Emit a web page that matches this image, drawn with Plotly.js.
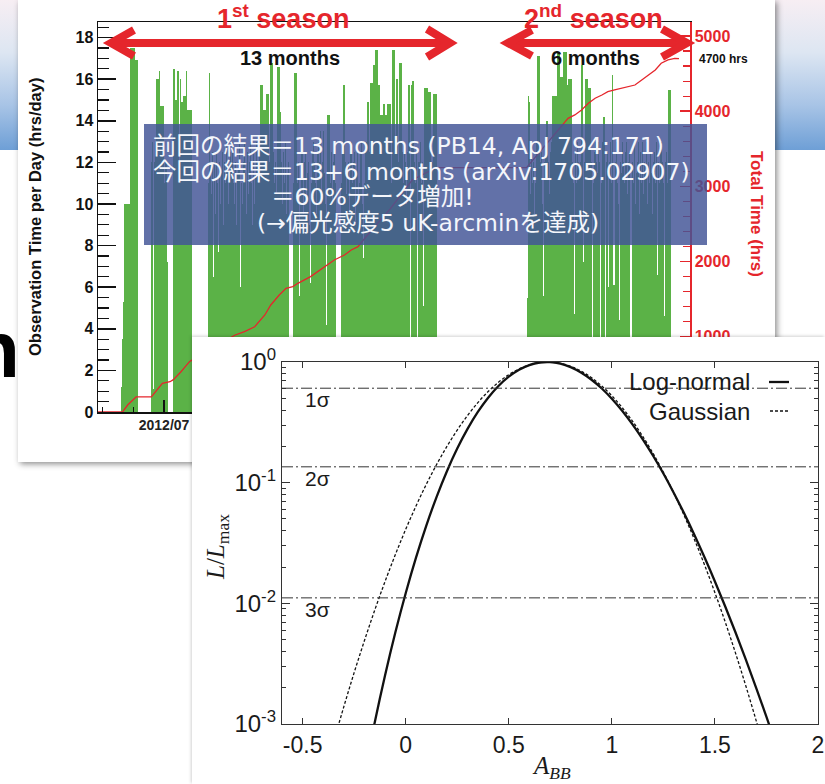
<!DOCTYPE html>
<html><head><meta charset="utf-8">
<script src="https://cdn.plot.ly/plotly-3.0.1.min.js"></script>
<style>
html,body{margin:0;padding:0;background:#fff;}
#page{position:relative;width:825px;height:784px;overflow:hidden;background:#fff;}
#band{position:absolute;left:0;top:0;width:825px;height:150px;background:linear-gradient(to bottom,#f7eef3 0%,#dde6f2 35%,#a8c4e6 70%,#6e9fd6 100%);}
#bigN{position:absolute;left:-29px;top:310px;font:bold 80px/80px "Liberation Sans",Arial,sans-serif;color:#000;}
#topc{position:absolute;left:18px;top:0;width:757px;height:462px;background:#fff;box-shadow:2px 2px 6px rgba(0,0,0,0.45);}
#botc{position:absolute;left:192px;top:337px;width:633px;height:447px;background:#fff;box-shadow:-1px -1px 3px rgba(0,0,0,0.18);}
</style></head>
<body>
<div id="page">
  <div id="band"></div>
  <div id="bigN">n</div>
  <div id="topc"></div>
  <div id="botc"></div>
</div>
<script>
// ---------------- Top chart data ----------------
const season1Start = '2012-05-12';
const season1Hours = [
 1.2,3.5,5.3,10,10,10,10,10,10,10,
 17.5,17.5,17.5,17.5,17.5,17.5,16.9,16.9,16.9,16.9,
 0,0,0,0,0,0,0,0,0,0,
 0,0,0,0,0,12,13,11,1.1,12,
 13,16,16,16,16.4,16.4,14.7,14.7,14.7,14.7,
 12,11,12,12,7.2,0,0,0,0,0,
 0,16.5,16.5,13,15,15,16.4,16.4,12,16,
 16,14.9,14.9,15.2,15.2,15.2,16.4,16.4,14.5,14.5,
 14.5,14.5,14.5,12,0,0,0,0,0,0,
 0,0,0,0,0,0,0,0,0,0,
 0,0,11,16.3,16.3,12,10.5,12.5,6.5,11,
 12,9.5,12.5,11,7.7,12,13,10,11.5,12.5,
 9,12,7.6,11,13,12,10,11.5,12.5,9.5,
 12,13,11,10,12,12.5,9,11.5,12,13,
 6,11,12.5,10,12,13,11.5,9.5,12,12.5,
 10.5,12,13,11,9,12,12.5,10,11.5,13,
 12,9.5,11,12.5,15.7,15.7,15.7,14.5,14.5,14.5,
 14.5,15.3,15.3,15.3,12,16.8,16.8,16.8,16.8,12.5,
 11,13,12,10.5,16.6,16.6,16.6,14.4,14.4,12,
 10,12.5,11,13,12,9.5,11.5,12,0,0,
 0,0,0,11,16.3,16.3,16.3,12.5,11,12,
 5.6,10.5,12.5,13,11,9.5,12,12.5,10,11.5,
 13,12,9,6.2,11,12.5,13,10.5,12,11,
 9.5,12.5,13,11,12,13.5,10,12,13.5,11.5,
 12,10,4.2,14.3,14.3,14.3,6.8,11,12.5,10,
 12,13,11,9.5,0,0,0,0,0,0,
 11,12.5,15.7,15.7,12,10.5,13,11.5,12,9.5,
 12.5,13,11,10,12,12.5,9,11.5,13,12,
 10.5,11,12.5,13,10,7.4,12,11,12.5,13,
 14.9,14.9,14.9,12.5,15.8,15.8,15.8,16.7,16.7,16.7,
 17.4,17.4,17.4,15.7,15.7,15.7,14.3,14.3,14.3,14.8,
 14.8,14.3,14.3,14.3,14.8,14.8,14.8,14.8,12,11,
 17.4,17.4,17.4,12.5,16,16,16,12,16.8,16.8,
 16.8,16.8,12.5,11,13,12,10,12.5,15.7,15.7,
 15.7,0,15.7,15.9,15.9,15.9,12,11,12.5,2,
 12,17.2,12,13,11,12,5.1,12.5,15.6,15.6,
 15.6,15.6,15.4,15.4,15.4,15.4,12,12,15.3,15.3,
 15.3,15.3,15.3
];
const season2Start = '2013-09-03';
const season2Hours = [
 5.5,15.2,14.9,12,10.5,13,11,12,9.5,12.5,
 11,13,17.1,17.1,17.1,12,11,12.5,10,5.6,
 12,13,11,14,14,12,10.5,12.5,13,11,
 15.2,15.2,15.2,15.2,15.2,17.3,17.3,17.3,17.3,16.1,
 16.1,16.1,17.3,17.3,17.3,17.3,17.3,15.7,16,16,
 16,16,16,12,11,4.7,4.7,12.5,11,13,
 12,10,11.5,12,16.7,16.7,7.2,12,13,16,
 16,16,15.6,15.6,15.6,15.6,12,0,11,12.5,
 13,10,12,11.5,13,12,1.5,11,12.5,13,
 14.2,14.2,0,12,11,12.5,6,12,13,11,
 16.2,16.2,6.1,6.1,12,13,11,12.5,10,4.4,
 12,11.5,13,12,6.9,11,12.5,13,10.5,12,
 11,12.5,0,0,12,11,13,12.5,10,11.5,
 12,13,9.5,12,12.5,11,13,10.5,12,11.5,
 12.5,13,10,12,11,12.5,13,11.5,9.5,12,
 12.5,11,13,12,6.6,12,11,12.5,13,10.5,
 12,11,4.6,12,12.5,11,13,15.5,15.5,15.5
];
// cumulative total time (hrs)
const cumDates = ['2012-04-14','2012-05-13','2012-05-19','2012-05-29','2012-06-16','2012-06-21','2012-06-29','2012-07-08','2012-07-12','2012-07-21','2012-07-31','2012-08-12','2012-09-23','2012-10-04','2012-10-16','2012-10-28','2012-11-04','2012-11-14','2012-11-22','2012-11-30','2012-12-06','2012-12-21','2013-01-06','2013-01-18','2013-01-30','2013-02-07','2013-02-15','2013-02-23','2013-03-25','2013-04-20','2013-05-13','2013-05-19','2013-09-02','2013-09-23','2013-10-15','2013-10-21','2013-10-29','2013-11-06','2013-11-14','2013-11-22','2013-11-30','2013-12-07','2013-12-15','2013-12-31','2014-01-08','2014-01-16','2014-01-24','2014-02-01','2014-02-08','2014-02-16','2014-02-24','2014-03-01'];
const cumHours = [0,0,93,200,200,270,380,403,430,536,669,758,1024,1068,1134,1290,1423,1556,1645,1667,1711,1800,1932,2021,2088,2154,2198,2310,2700,3085,3218,3250,3250,3530,3815,3905,3950,4016,4105,4172,4215,4259,4282,4326,4348,4415,4481,4548,4637,4681,4703,4700];
const totalTicks = [1000,2000,3000,4000,5000];

const leftTitle = 'Observation Time per Day (hrs/day)';
const rightTitle = 'Total Time (hrs)';
const noteLines = ['前回の結果＝13 months (PB14, ApJ 794:171)','今回の結果＝13+6 months (arXiv:1705.02907)','＝60%データ増加!','(→偏光感度5 uK-arcminを達成)'];

// ---------------- Bottom chart data ----------------
const abbGauss = [-0.35,-0.30,-0.25,-0.20,-0.15,-0.10,-0.05,0.00,0.05,0.10,0.15,0.20,0.25,0.30,0.35,0.40,0.45,0.50,0.55,0.60,0.65,0.70,0.75,0.80,0.85,0.90,0.95,1.00,1.05,1.10,1.15,1.20,1.25,1.30,1.35,1.40,1.45,1.50,1.55,1.60,1.65,1.70,1.75];
const likeGauss = [0.000706,0.001394,0.002664,0.00492,0.008797,0.01519,0.02537,0.04101,0.06405,0.0968,0.1414,0.1997,0.2728,0.3604,0.4605,0.5688,0.6795,0.7849,0.8768,0.9471,0.9893,0.9993,0.9761,0.922,0.8422,0.7439,0.6354,0.5248,0.4192,0.3238,0.2418,0.1747,0.122,0.08242,0.05382,0.03398,0.02075,0.01226,0.007001,0.003866,0.002064,0.001067,0.000532];
const abbLogN = [-0.20,-0.15,-0.10,-0.05,0.00,0.05,0.10,0.15,0.20,0.25,0.30,0.35,0.40,0.45,0.50,0.55,0.60,0.65,0.70,0.75,0.80,0.85,0.90,0.95,1.00,1.05,1.10,1.15,1.20,1.25,1.30,1.35,1.40,1.45,1.50,1.55,1.60,1.65,1.70,1.75,1.80];
const likeLogN = [0.000391,0.001036,0.002536,0.005752,0.01213,0.0239,0.04409,0.07633,0.1245,0.1916,0.279,0.3854,0.5061,0.633,0.7556,0.8627,0.9434,0.99,0.9985,0.9695,0.9074,0.8199,0.7163,0.6056,0.4962,0.3944,0.3046,0.2287,0.1671,0.119,0.08263,0.056,0.03707,0.02398,0.01519,0.009424,0.005727,0.003414,0.001996,0.001146,0.000646];
const sigmaLevels = [0.6065, 0.1353, 0.0111];
const sigmaLabels = ['1σ','2σ','3σ'];
const xTickVals = [-0.5,0,0.5,1,1.5,2];
const xTickText = ['-0.5','0','0.5','1','1.5','2'];
const yTickVals = [0.001,0.01,0.1,1];
const yTickText = ['10<sup>-3</sup>','10<sup>-2</sup>','10<sup>-1</sup>','10<sup>0</sup>'];
const legendNames = ['Log-normal','Gaussian'];

// ---------------- helpers ----------------
function dayList(start, n){
  const t0 = Date.parse(start + 'T00:00:00Z');
  const out = [];
  for(let k=0;k<n;k++) out.push(new Date(t0 + k*86400000).toISOString().slice(0,10));
  return out;
}
const RED = '#e5262c';
const GREEN = '#5bb247';
const SANS = '"Liberation Sans", Arial, Helvetica, sans-serif';
const SERIF = '"Liberation Serif", "Times New Roman", serif';
const CJK = '"DejaVu Sans", "Noto Sans CJK JP", sans-serif';

// top chart pixel->paper (page coords)
const TX = p => (p - 98) / 592;
const TY = p => (412 - p) / 390;

const topTraces = [
  {type:'bar', x: dayList(season1Start, season1Hours.length), y: season1Hours, width: 86400000,
   marker:{color:GREEN, line:{width:0}}, hoverinfo:'skip'},
  {type:'bar', x: dayList(season2Start, season2Hours.length), y: season2Hours, width: 86400000,
   marker:{color:GREEN, line:{width:0}}, hoverinfo:'skip'},
  {type:'scatter', mode:'lines', x: cumDates, y: cumHours, yaxis:'y2',
   line:{color:RED, width:1.3}, hoverinfo:'skip'}
];

function chevron(tipX, backX, y, h){
  return 'M ' + TX(backX) + ',' + TY(y - h) + ' L ' + TX(tipX) + ',' + TY(y) + ' L ' + TX(backX) + ',' + TY(y + h);
}
const arrowShapes = [
  {type:'path', path:'M ' + TX(115) + ',' + TY(43) + ' L ' + TX(446) + ',' + TY(43)},
  {type:'path', path: chevron(111, 134, 43, 13)},
  {type:'path', path: chevron(450, 427, 43, 14)},
  {type:'path', path:'M ' + TX(511) + ',' + TY(43) + ' L ' + TX(684) + ',' + TY(43)},
  {type:'path', path: chevron(508, 532, 43, 13)},
  {type:'path', path: chevron(687, 662, 43, 14)}
].map(s => Object.assign(s, {xref:'paper', yref:'paper', layer:'above', line:{color:RED, width:8}}));

const boxShape = {type:'rect', xref:'paper', yref:'paper', x0:TX(144), x1:TX(707), y0:TY(245), y1:TY(124),
  fillcolor:'rgba(66,84,150,0.83)', line:{width:0}, layer:'above'};

const noteAnn = [
  {x:TX(151), y:TY(146), text:noteLines[0]},
  {x:TX(151), y:TY(172), text:noteLines[1]},
  {x:TX(269), y:TY(197), text:noteLines[2]},
  {x:TX(255), y:TY(223), text:noteLines[3]}
].map(a => Object.assign(a, {xref:'paper', yref:'paper', xanchor:'left', yanchor:'middle', showarrow:false,
  font:{family:CJK, size:23.5, color:'#f4f6fb'}}));

const topAnn = [
  {x:TX(283), y:TY(17), text:'1<sup>st</sup> season', font:{family:SANS, size:27, color:RED, weight:700}},
  {x:TX(593), y:TY(17), text:'2<sup>nd</sup> season', font:{family:SANS, size:27, color:RED, weight:700}},
  {x:TX(290), y:TY(58), text:'13 months', font:{family:SANS, size:20, color:'#111', weight:700}},
  {x:TX(595), y:TY(58), text:'6 months', font:{family:SANS, size:20, color:'#111', weight:700}},
  {x:TX(697), y:TY(59), text:'4700 hrs', xanchor:'left', font:{family:SANS, size:12, color:'#111', weight:700}},
  {x:TX(35), y:TY(217), text:leftTitle, textangle:-90, font:{family:SANS, size:16.5, color:'#111', weight:700}},
  {x:TX(757), y:TY(214), text:rightTitle, textangle:90, font:{family:SANS, size:17, color:RED, weight:700}}
].map(a => Object.assign({xref:'paper', yref:'paper', xanchor:'center', yanchor:'middle', showarrow:false}, a));

const topLayout = {
  width:757, height:462, margin:{l:80, r:85, t:22, b:50},
  paper_bgcolor:'rgba(0,0,0,0)', plot_bgcolor:'rgba(0,0,0,0)',
  showlegend:false, bargap:0, barmode:'overlay',
  font:{family:SANS, color:'#111'},
  xaxis:{type:'date', range:['2012-04-14','2014-03-14'], showline:true, linecolor:'#111', linewidth:1.5, mirror:true,
    ticks:'inside', ticklen:12, tickwidth:1.5, tickcolor:'#111', tick0:'2012-07-01', dtick:'M6', tickformat:'%Y/%m',
    tickfont:{family:SANS, size:14, weight:700, color:'#222'}, showgrid:false, zeroline:false,
    minor:{ticks:'inside', ticklen:5, tickwidth:1, tickcolor:'#111', tick0:'2012-07-01', dtick:36.5*86400000}},
  yaxis:{range:[0,18.75], showline:true, linecolor:'#111', linewidth:1.5, ticks:'inside', ticklen:18, tickwidth:1.5,
    tickcolor:'#111', tick0:0, dtick:2, tickfont:{family:SANS, size:16, weight:700, color:'#111'}, showgrid:false, zeroline:false,
    minor:{ticks:'inside', ticklen:11, tickwidth:1.2, tickcolor:'#111', dtick:0.5}},
  yaxis2:{overlaying:'y', side:'right', range:[0,5186], showline:true, linecolor:RED, linewidth:1.5, ticks:'inside',
    ticklen:10, tickwidth:1.5, tickcolor:RED, tickmode:'array', tickvals:totalTicks, tickfont:{family:SANS, size:16, weight:700, color:RED},
    showgrid:false, zeroline:false, minor:{ticks:'inside', ticklen:7, tickwidth:1.2, tickcolor:RED, tickmode:'linear', tick0:0, dtick:200}},
  shapes: arrowShapes.concat([boxShape]),
  annotations: topAnn.concat(noteAnn)
};

Plotly.newPlot('topc', topTraces, topLayout, {staticPlot:true, displayModeBar:false});

// ---------------- bottom chart ----------------
const BX = p => (p - 282) / 536;
const BY = p => (724 - p) / 362;

const minorY = [];
for(let d=-3; d<0; d++) for(let m=2; m<=9; m++) minorY.push(m*Math.pow(10,d));

const botTraces = [
  {type:'scatter', mode:'lines', x:abbGauss, y:likeGauss, line:{color:'#111', width:1.3, dash:'3px,2px', shape:'spline'}, hoverinfo:'skip'},
  {type:'scatter', mode:'lines', x:abbLogN, y:likeLogN, line:{color:'#111', width:2.3, shape:'spline'}, hoverinfo:'skip'}
];
const sigmaShapes = sigmaLevels.map(v => ({type:'line', xref:'paper', yref:'y', x0:0, x1:1, y0:v, y1:v,
  line:{color:'#333', width:1, dash:'11px,3px,2px,3px'}}));
const legShapes = [
  {type:'line', xref:'paper', yref:'paper', x0:BX(769), x1:BX(789), y0:BY(382), y1:BY(382), line:{color:'#111', width:2.3}},
  {type:'line', xref:'paper', yref:'paper', x0:BX(770), x1:BX(789), y0:BY(411), y1:BY(411), line:{color:'#111', width:1.3, dash:'3px,2px'}}
];
const botAnn = [
  {x:BX(752), y:BY(382), text:legendNames[0], xanchor:'right', font:{family:SANS, size:24, color:'#1a1a1a'}},
  {x:BX(752), y:BY(411), text:legendNames[1], xanchor:'right', font:{family:SANS, size:24, color:'#1a1a1a'}},
  {x:BX(303), y:BY(399), text:sigmaLabels[0], xanchor:'left', font:{family:SANS, size:21, color:'#1a1a1a'}},
  {x:BX(303), y:BY(478), text:sigmaLabels[1], xanchor:'left', font:{family:SANS, size:21, color:'#1a1a1a'}},
  {x:BX(303), y:BY(609), text:sigmaLabels[2], xanchor:'left', font:{family:SANS, size:21, color:'#1a1a1a'}},
  {x:BX(217), y:BY(547), text:'<i>L</i>/<i>L</i><sub>max</sub>', textangle:-90, font:{family:SERIF, size:25, color:'#1a1a1a'}},
  {x:BX(551), y:BY(768), text:'<i>A<sub>BB</sub></i>', font:{family:SERIF, size:25, color:'#1a1a1a'}}
].map(a => Object.assign({xref:'paper', yref:'paper', xanchor:'center', yanchor:'middle', showarrow:false}, a));

const botLayout = {
  width:633, height:447, margin:{l:90, r:7, t:25, b:60},
  paper_bgcolor:'#ffffff', plot_bgcolor:'#ffffff', showlegend:false,
  font:{family:SANS, color:'#1a1a1a'},
  xaxis:{range:[-0.6,2], tickmode:'array', tickvals:xTickVals, ticktext:xTickText, ticks:'inside', ticklen:6, tickwidth:1,
    tickcolor:'#333', showline:true, linecolor:'#333', linewidth:1.2, mirror:'ticks', showgrid:false, zeroline:false,
    tickfont:{family:SANS, size:23, color:'#1a1a1a'}},
  yaxis:{type:'log', range:[-3,0], tickmode:'array', tickvals:yTickVals, ticktext:yTickText, ticks:'inside', ticklen:8, tickwidth:1,
    tickcolor:'#333', showline:true, linecolor:'#333', linewidth:1.2, mirror:'ticks', showgrid:false, zeroline:false,
    tickfont:{family:SANS, size:24, color:'#1a1a1a'},
    minor:{tickmode:'array', tickvals:minorY, ticks:'inside', ticklen:4, tickwidth:1, tickcolor:'#333', showgrid:false}},
  shapes: sigmaShapes.concat(legShapes),
  annotations: botAnn
};
Plotly.newPlot('botc', botTraces, botLayout, {staticPlot:true, displayModeBar:false});
</script>
</body></html>
